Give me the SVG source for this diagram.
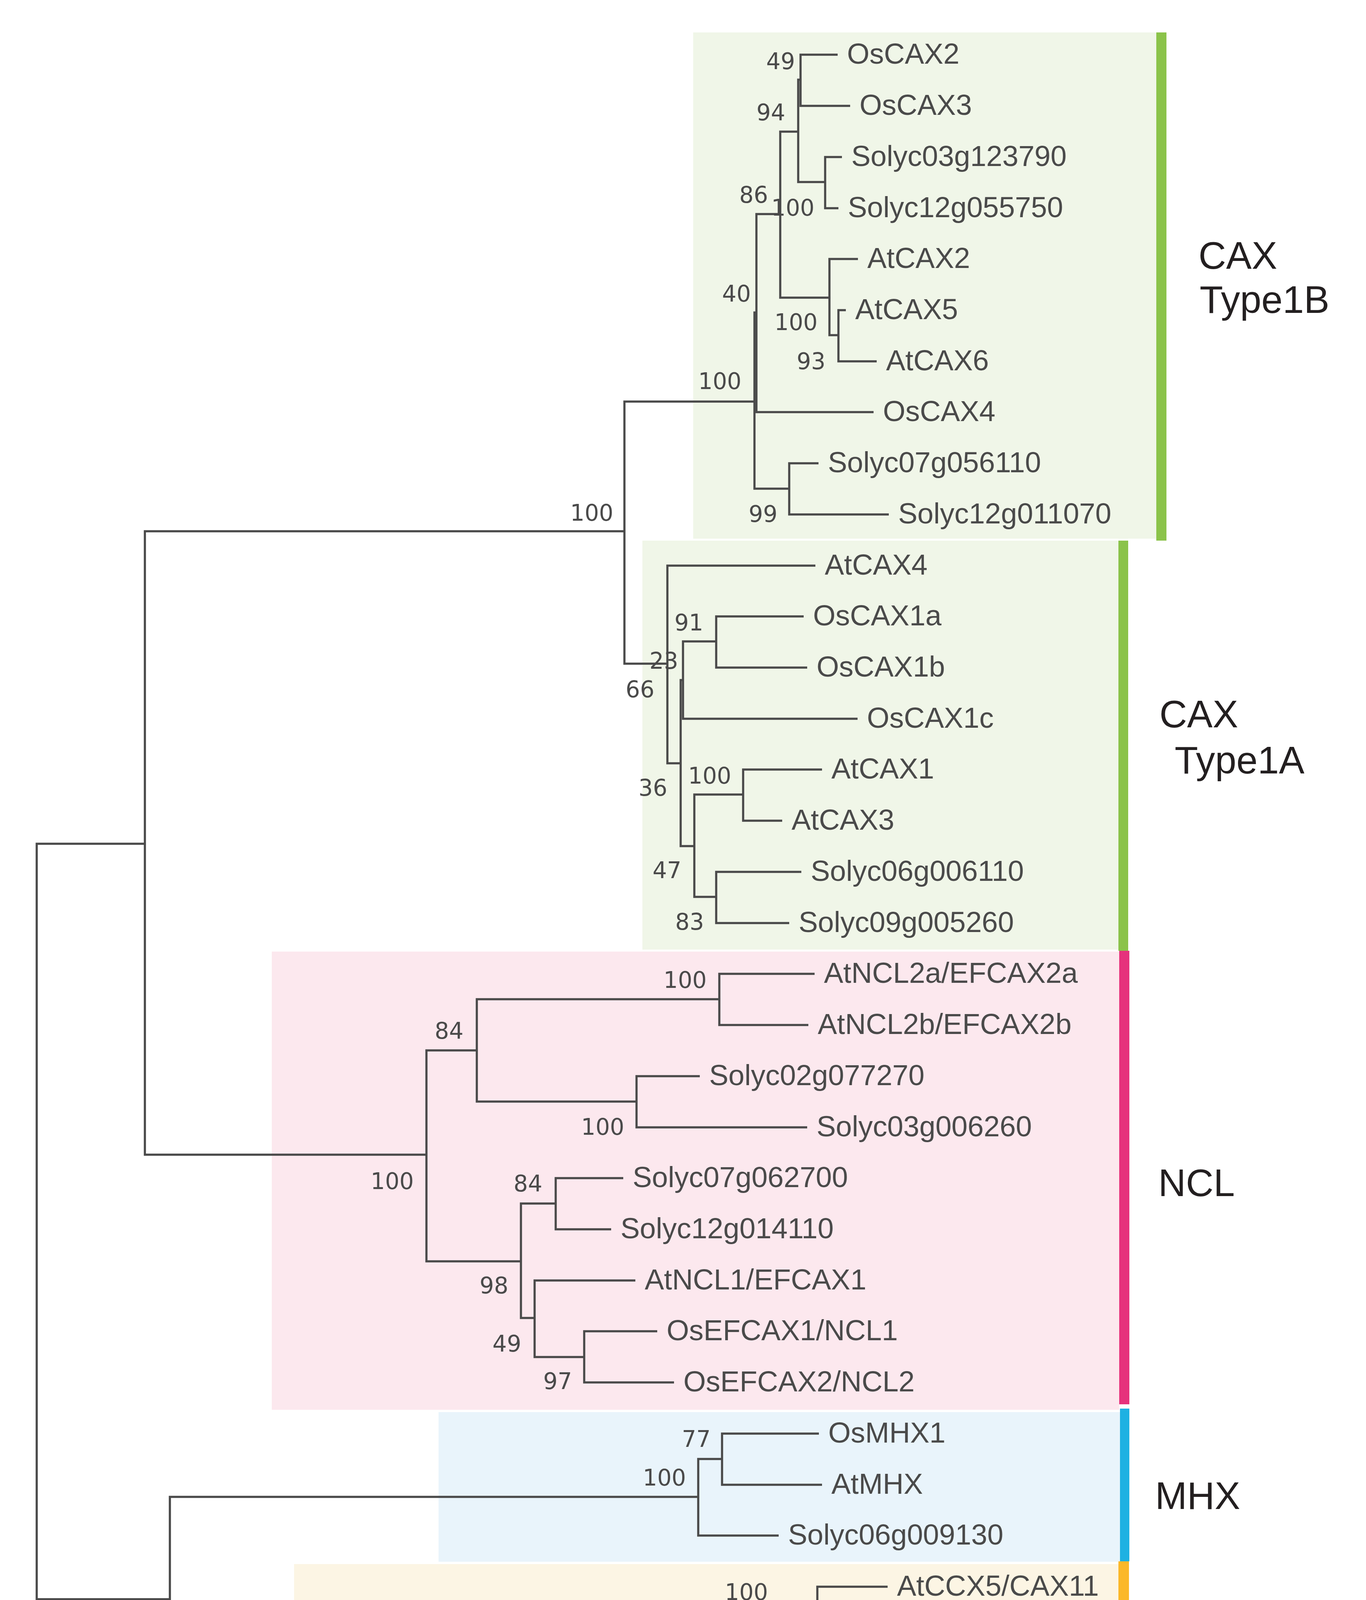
<svg xmlns="http://www.w3.org/2000/svg" width="3498" height="6126" viewBox="0 0 3498 6126">
<style>
.br{stroke:#4a4a4a;stroke-width:5.5;fill:none;stroke-linejoin:miter}
.lf{font-family:"Liberation Sans",Arial,sans-serif;font-size:74px;fill:#4a4a4a}
.bs{font-family:"DejaVu Sans",Verdana,sans-serif;font-size:58px;fill:#4a4a4a}
.grp{font-family:"Liberation Sans",Arial,sans-serif;font-size:98px;fill:#231f20}
</style>
<rect width="3498" height="6126" fill="#ffffff"/>
<g id="clade-boxes">
<g id="box-CAX-Type1B"><rect x="1775" y="83" width="1187" height="1296" fill="#f0f6e8"/><rect x="2961" y="83" width="26" height="1301" fill="#8bc34a"/></g>
<g id="box-CAX-Type1A"><rect x="1645" y="1384" width="1220" height="1047" fill="#f0f6e8"/><rect x="2864" y="1384" width="25" height="1050" fill="#8bc34a"/></g>
<g id="box-NCL"><rect x="696" y="2436" width="2170" height="1173" fill="#fce8ee"/><rect x="2866" y="2434" width="26" height="1161" fill="#e6327c"/></g>
<g id="box-MHX"><rect x="1123" y="3615" width="1745" height="383" fill="#e9f4fb"/><rect x="2868" y="3606" width="24" height="391" fill="#1eb1e2"/></g>
<g id="box-CCX"><rect x="753" y="4004" width="2112" height="1837" fill="#fcf5e4"/><rect x="2864" y="3997" width="27" height="1844" fill="#fbb829"/></g>
</g>
<g id="connectors" class="br">
<path d="M371,2160 H94 V4094 H435"/>
<path d="M1599,1360 H371 V2956 H1092"/>
<path d="M1932,1028 H1599 V1699 H1709"/>
<path d="M1937,800 H1932 V1251 H2021"/>
<path d="M1998,548 H1937 V1055 H2237"/>
<path d="M2044,337 H1998 V762 H2124"/>
<path d="M2050,204 H2044 V466 H2113"/>
<path d="M2145,140 H2050 V271 H2177"/>
<path d="M2156,402 H2113 V533 H2147"/>
<path d="M2197,663 H2124 V858 H2147"/>
<path d="M2166,794 H2147 V925 H2245"/>
<path d="M2096,1186 H2021 V1317 H2276"/>
<path d="M2088,1448 H1709 V1954 H1743"/>
<path d="M1749,1741 H1743 V2166 H1778"/>
<path d="M1834,1642 H1749 V1840 H2196"/>
<path d="M2058,1578 H1834 V1709 H2067"/>
<path d="M1903,2034 H1778 V2296 H1834"/>
<path d="M2105,1970 H1903 V2101 H2003"/>
<path d="M2052,2232 H1834 V2363 H2021"/>
<path d="M1221,2689 H1092 V3229 H1334"/>
<path d="M1842,2558 H1221 V2820 H1630"/>
<path d="M2086,2493 H1842 V2624 H2070"/>
<path d="M1792,2755 H1630 V2886 H2067"/>
<path d="M1423,3081 H1334 V3374 H1369"/>
<path d="M1596,3016 H1423 V3147 H1565"/>
<path d="M1627,3278 H1369 V3474 H1496"/>
<path d="M1683,3408 H1496 V3539 H1726"/>
<path d="M1788,3832 H435 V4355 H1151"/>
<path d="M1849,3735 H1788 V3931 H1994"/>
<path d="M2097,3670 H1849 V3801 H2105"/>
<path d="M2093,4127 H1151 V4585 H1446"/>
<path d="M2273,4062 H2093 V4193 H2109"/>
<path d="M1877,4323 H1446 V4850 H1494"/>
<path d="M1578,4617 H1494 V5083 H1542"/>
<path d="M1792,4519 H1578 V4716 H2159"/>
<path d="M2158,4454 H1792 V4585 H2127"/>
<path d="M1587,4912 H1542 V5255 H1628"/>
<path d="M2145,4846 H1587 V4977 H2127"/>
<path d="M2056,5108 H1628 V5403 H1842"/>
<path d="M2141,5239 H1842 V5566 H1868"/>
<path d="M1917,5434 H1868 V5696 H2029"/>
<path d="M2166,5369 H1917 V5500 H2249"/>
<path d="M2095,5631 H2029 V5761 H2231"/>
</g>
<g id="leaves" class="lf">
<g id="n-OsCAX2"><text x="2169" y="163">OsCAX2</text></g>
<g id="n-OsCAX3"><text x="2201" y="294">OsCAX3</text></g>
<g id="n-Solyc03g123790"><text x="2180" y="425">Solyc03g123790</text></g>
<g id="n-Solyc12g055750"><text x="2171" y="556">Solyc12g055750</text></g>
<g id="n-AtCAX2"><text x="2221" y="686">AtCAX2</text></g>
<g id="n-AtCAX5"><text x="2190" y="817">AtCAX5</text></g>
<g id="n-AtCAX6"><text x="2269" y="948">AtCAX6</text></g>
<g id="n-OsCAX4"><text x="2261" y="1078">OsCAX4</text></g>
<g id="n-Solyc07g056110"><text x="2120" y="1209">Solyc07g056110</text></g>
<g id="n-Solyc12g011070"><text x="2300" y="1340">Solyc12g011070</text></g>
<g id="n-AtCAX4"><text x="2112" y="1471">AtCAX4</text></g>
<g id="n-OsCAX1a"><text x="2082" y="1601">OsCAX1a</text></g>
<g id="n-OsCAX1b"><text x="2091" y="1732">OsCAX1b</text></g>
<g id="n-OsCAX1c"><text x="2220" y="1863">OsCAX1c</text></g>
<g id="n-AtCAX1"><text x="2129" y="1993">AtCAX1</text></g>
<g id="n-AtCAX3"><text x="2027" y="2124">AtCAX3</text></g>
<g id="n-Solyc06g006110"><text x="2076" y="2255">Solyc06g006110</text></g>
<g id="n-Solyc09g005260"><text x="2045" y="2386">Solyc09g005260</text></g>
<g id="n-AtNCL2a"><text x="2110" y="2516">AtNCL2a/EFCAX2a</text></g>
<g id="n-AtNCL2b"><text x="2094" y="2647">AtNCL2b/EFCAX2b</text></g>
<g id="n-Solyc02g077270"><text x="1816" y="2778">Solyc02g077270</text></g>
<g id="n-Solyc03g006260"><text x="2091" y="2909">Solyc03g006260</text></g>
<g id="n-Solyc07g062700"><text x="1620" y="3039">Solyc07g062700</text></g>
<g id="n-Solyc12g014110"><text x="1589" y="3170">Solyc12g014110</text></g>
<g id="n-AtNCL1"><text x="1651" y="3301">AtNCL1/EFCAX1</text></g>
<g id="n-OsEFCAX1"><text x="1707" y="3431">OsEFCAX1/NCL1</text></g>
<g id="n-OsEFCAX2"><text x="1750" y="3562">OsEFCAX2/NCL2</text></g>
<g id="n-OsMHX1"><text x="2121" y="3693">OsMHX1</text></g>
<g id="n-AtMHX"><text x="2129" y="3824">AtMHX</text></g>
<g id="n-Solyc06g009130"><text x="2018" y="3954">Solyc06g009130</text></g>
<g id="n-AtCCX5"><text x="2297" y="4085">AtCCX5/CAX11</text></g>
<g id="n-Solyc01g098800"><text x="2133" y="4216">Solyc01g098800</text></g>
<g id="n-AtCCX1"><text x="1901" y="4346">AtCCX1/CAX7</text></g>
<g id="n-OsCCX2"><text x="2182" y="4477">OsCCX2</text></g>
<g id="n-OsCCX4"><text x="2151" y="4608">OsCCX4</text></g>
<g id="n-OsCCX3"><text x="2183" y="4739">OsCCX3</text></g>
<g id="n-AtCCX2"><text x="2169" y="4869">AtCCX2/CAX8</text></g>
<g id="n-Solyc07g006370"><text x="2151" y="5000">Solyc07g006370</text></g>
<g id="n-Solyc09g072690"><text x="2080" y="5131">Solyc09g072690</text></g>
<g id="n-Solyc02g069710"><text x="2165" y="5262">Solyc02g069710</text></g>
<g id="n-OsCCX1"><text x="2190" y="5392">OsCCX1</text></g>
<g id="n-Solyc07g042000"><text x="2273" y="5523">Solyc07g042000</text></g>
<g id="n-AtCCX3"><text x="2119" y="5654">AtCCX3/CAX9</text></g>
<g id="n-AtCCX4"><text x="2255" y="5784">AtCCX4/CAX10</text></g>
</g>
<g id="bootstrap" class="bs">
<text x="1962" y="177">49</text>
<text x="1937" y="308">94</text>
<text x="1893" y="519">86</text>
<text x="1975" y="552">100</text>
<text x="1849" y="772">40</text>
<text x="1983" y="845">100</text>
<text x="2040" y="945">93</text>
<text x="1788" y="996">100</text>
<text x="1917" y="1336">99</text>
<text x="1727" y="1614">91</text>
<text x="1663" y="1712">23</text>
<text x="1602" y="1785">66</text>
<text x="1762" y="2006">100</text>
<text x="1635" y="2037">36</text>
<text x="1671" y="2248">47</text>
<text x="1729" y="2380">83</text>
<text x="1460" y="1333">100</text>
<text x="329" y="4179">99</text>
<text x="1699" y="2529">100</text>
<text x="1113" y="2659">84</text>
<text x="1488" y="2905">100</text>
<text x="949" y="3044">100</text>
<text x="1315" y="3050">84</text>
<text x="1228" y="3311">98</text>
<text x="1261" y="3460">49</text>
<text x="1391" y="3556">97</text>
<text x="1746" y="3704">77</text>
<text x="1646" y="3803">100</text>
<text x="1856" y="4096">100</text>
<text x="1008" y="4440">100</text>
<text x="1686" y="4488">95</text>
<text x="1476" y="4586">60</text>
<text x="1342" y="4670">93</text>
<text x="1481" y="4880">25</text>
<text x="1388" y="4935">41</text>
<text x="1433" y="5166">21</text>
<text x="1522" y="5339">53</text>
<text x="1807" y="5403">52</text>
<text x="1734" y="5485">99</text>
<text x="1761" y="5649">49</text>
<text x="1923" y="5780">96</text>
</g>
<g id="group-labels" class="grp">
<text x="3069" y="688">CAX</text>
<text x="3072" y="801">Type1B</text>
<text x="2969" y="1862">CAX</text>
<text x="3008" y="1980">Type1A</text>
<text x="2966" y="3062">NCL</text>
<text x="2958" y="3863">MHX</text>
<text x="2934" y="5021">CCX</text>
</g>
<g id="scale-bar">
<path d="M367,5963 H704 M367,5940 V5987 M704,5940 V5987" stroke="#3a3a3a" stroke-width="7" fill="none"/>
<text x="535" y="6045" text-anchor="middle" font-family="DejaVu Sans, Verdana, sans-serif" font-size="58" fill="#333333">0.20</text>
</g>
</svg>
